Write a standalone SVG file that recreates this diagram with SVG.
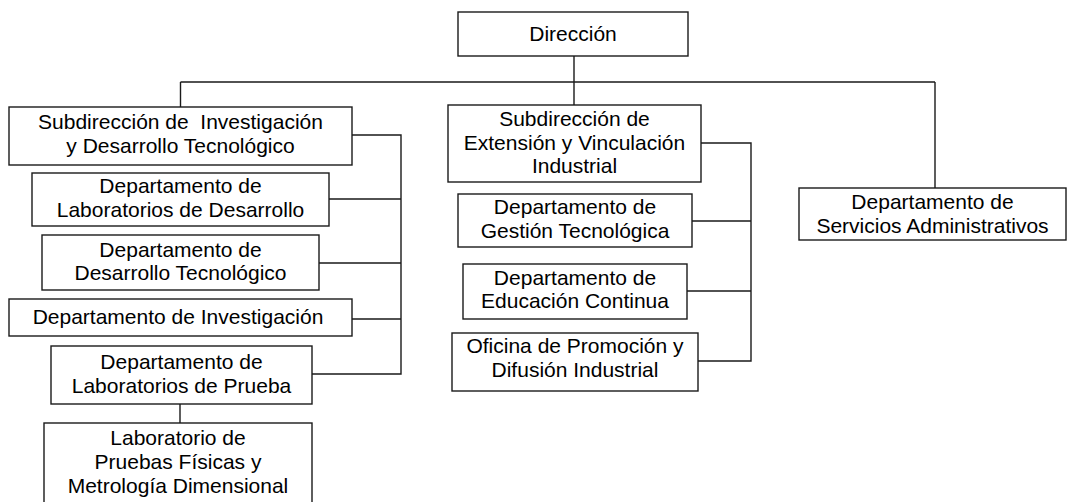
<svg xmlns="http://www.w3.org/2000/svg" width="1073" height="502" viewBox="0 0 1073 502">
<style>
.box{fill:#fff;stroke:#1a1a1a;stroke-width:1.4}
.t{font-family:"Liberation Sans",Arial,sans-serif;font-size:21px;fill:#000;text-anchor:middle}
.c{fill:none;stroke:#1a1a1a;stroke-width:1.4}
</style>
<rect width="1073" height="502" fill="#fff"/>
<g id="connectors">
<path class="c" d="M574,56 V105 M180.5,82 H935 M180.5,82 V107 M935,82 V188"/>
<path class="c" d="M352,135 H401 V374 H312 M329,199 H401 M319,263 H401 M352,319 H401 M180,404 V423"/>
<path class="c" d="M701,143 H751 V361 H698 M692,221 H751 M687,291 H751"/>
</g>
<g id="direccion">
<rect class="box" x="458" y="12" width="230" height="44"/>
<text class="t" x="573" y="41">Dirección</text>
</g>
<g id="sub-investigacion">
<rect class="box" x="9" y="107" width="343" height="58"/>
<text class="t" x="180.5" y="129" xml:space="preserve">Subdirección de  Investigación</text>
<text class="t" x="180.5" y="153">y Desarrollo Tecnológico</text>
</g>
<g id="dep-lab-desarrollo">
<rect class="box" x="32" y="173" width="297" height="53"/>
<text class="t" x="180.5" y="193">Departamento de</text>
<text class="t" x="180.5" y="217">Laboratorios de Desarrollo</text>
</g>
<g id="dep-desarrollo-tec">
<rect class="box" x="42" y="235" width="277" height="55"/>
<text class="t" x="180.5" y="257">Departamento de</text>
<text class="t" x="180.5" y="280">Desarrollo Tecnológico</text>
</g>
<g id="dep-investigacion">
<rect class="box" x="9" y="299" width="343" height="37"/>
<text class="t" x="178" y="324">Departamento de Investigación</text>
</g>
<g id="dep-lab-prueba">
<rect class="box" x="51" y="346" width="261" height="58"/>
<text class="t" x="181.5" y="369">Departamento de</text>
<text class="t" x="181.5" y="393">Laboratorios de Prueba</text>
</g>
<g id="lab-pruebas">
<rect class="box" x="44" y="423" width="268" height="90"/>
<text class="t" x="178" y="445">Laboratorio de</text>
<text class="t" x="178" y="469">Pruebas Físicas y</text>
<text class="t" x="178" y="493">Metrología Dimensional</text>
</g>
<g id="sub-extension">
<rect class="box" x="448" y="105" width="253" height="77"/>
<text class="t" x="574.5" y="126">Subdirección de</text>
<text class="t" x="574.5" y="150">Extensión y Vinculación</text>
<text class="t" x="574.5" y="173">Industrial</text>
</g>
<g id="dep-gestion">
<rect class="box" x="458" y="194" width="234" height="53"/>
<text class="t" x="575" y="214">Departamento de</text>
<text class="t" x="575" y="238">Gestión Tecnológica</text>
</g>
<g id="dep-educacion">
<rect class="box" x="463" y="264" width="224" height="55"/>
<text class="t" x="575" y="285">Departamento de</text>
<text class="t" x="575" y="308">Educación Continua</text>
</g>
<g id="oficina-promocion">
<rect class="box" x="452" y="333" width="246" height="58"/>
<text class="t" x="575" y="353">Oficina de Promoción y</text>
<text class="t" x="575" y="377">Difusión Industrial</text>
</g>
<g id="dep-servicios">
<rect class="box" x="799" y="188" width="267" height="52"/>
<text class="t" x="932.5" y="209">Departamento de</text>
<text class="t" x="932.5" y="233">Servicios Administrativos</text>
</g>
</svg>
